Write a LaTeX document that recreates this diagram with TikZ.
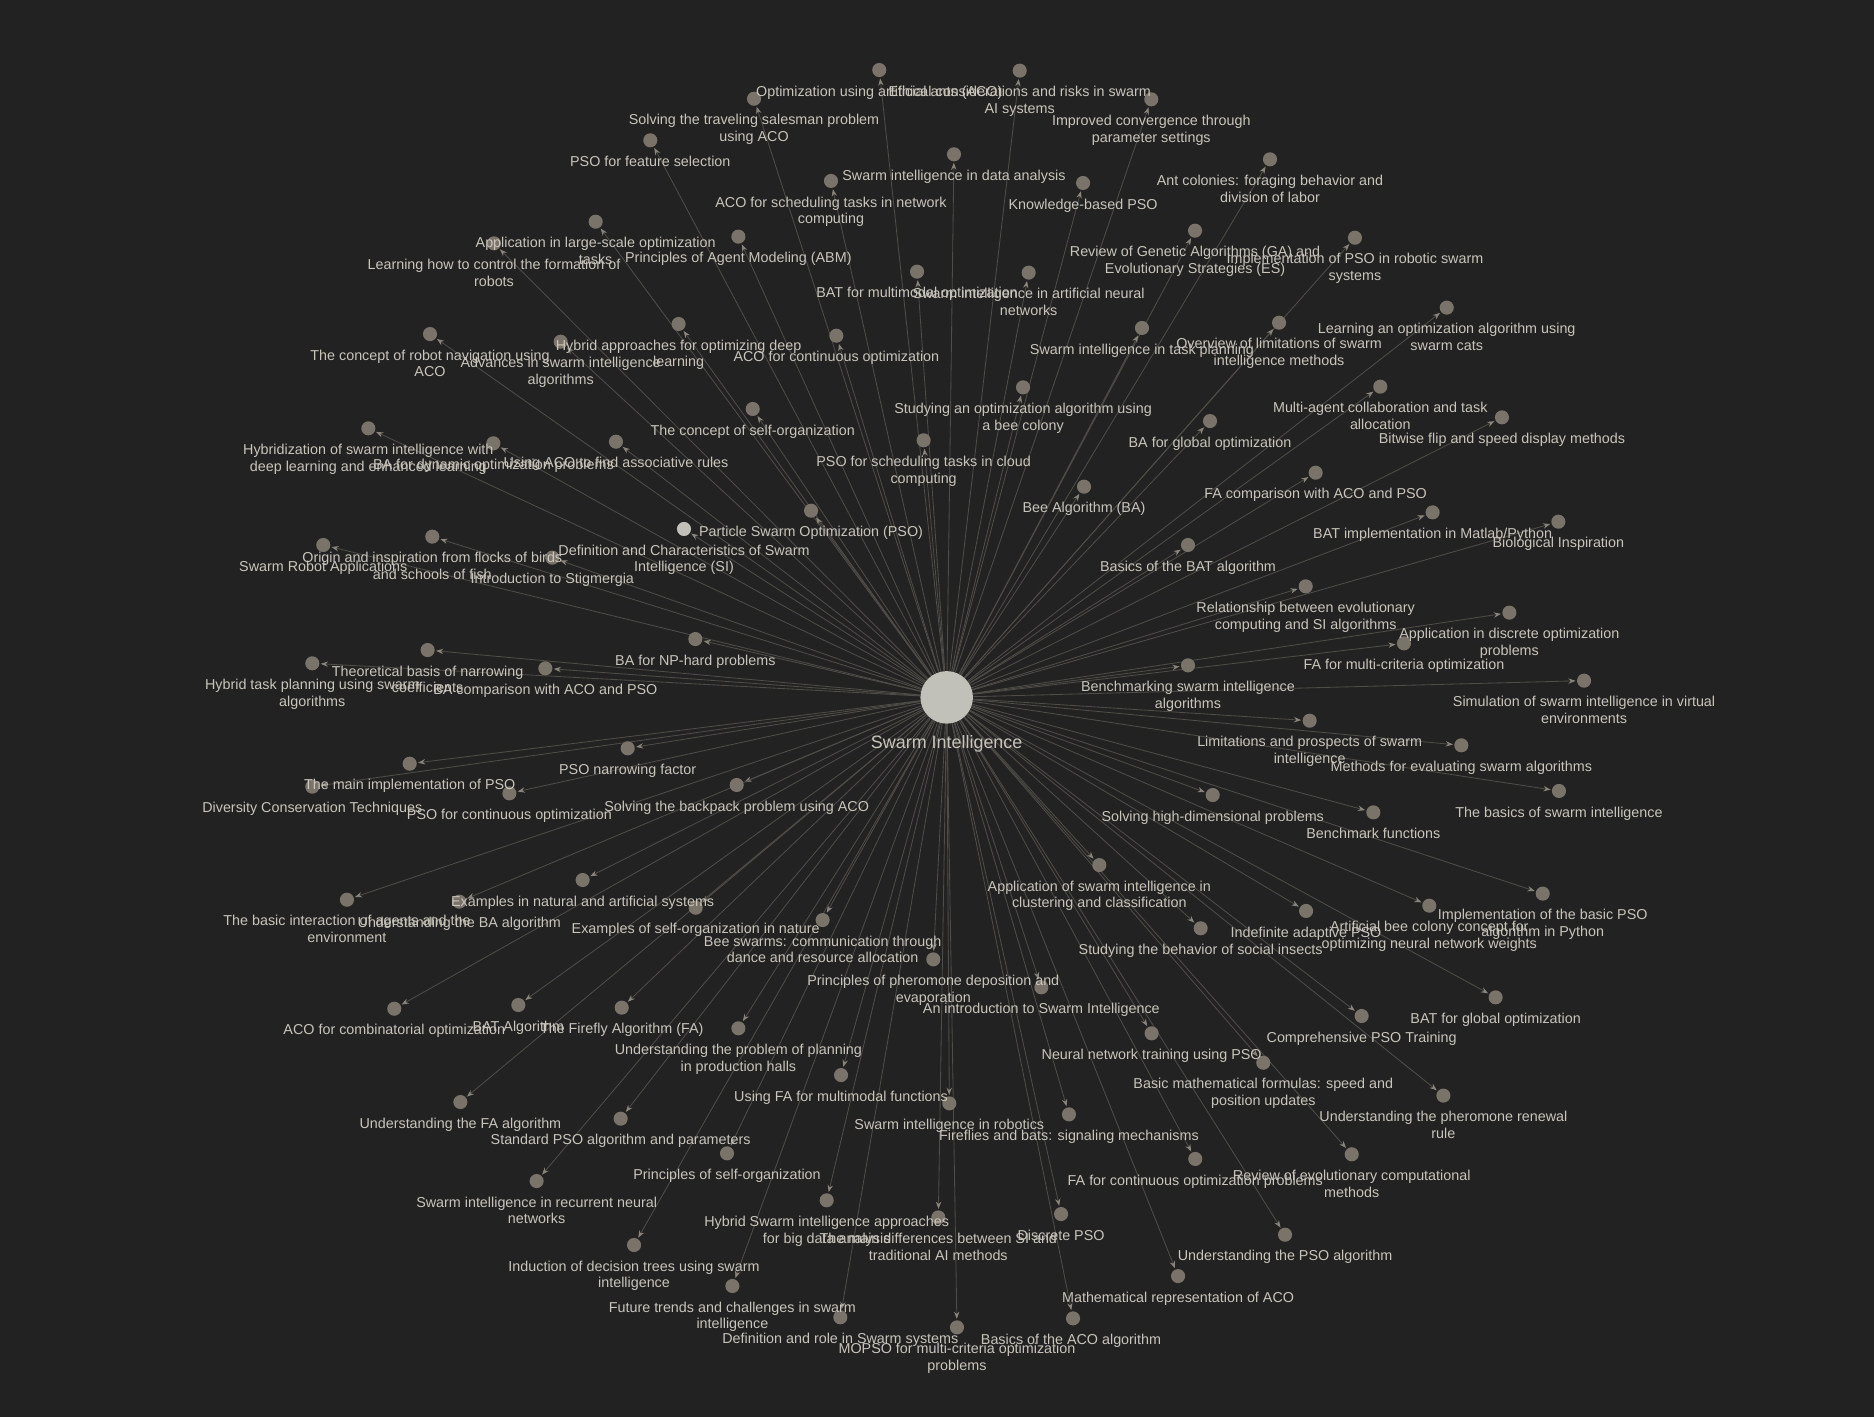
\documentclass[tikz,border=0pt]{standalone}
\usepackage{fontspec}
\setmainfont{Liberation Sans}
\usetikzlibrary{arrows.meta}
\definecolor{bgc}{HTML}{222222}
\definecolor{edgec}{HTML}{4F4D48}
\definecolor{tipc}{HTML}{8A857C}
\definecolor{nodec}{HTML}{7A7369}
\definecolor{txtc}{HTML}{C9C5BB}
\definecolor{hubc}{HTML}{C2C1B9}
\pgfdeclarelayer{bgl}
\pgfdeclarelayer{edges}
\pgfdeclarelayer{labels}
\pgfsetlayers{bgl,edges,main,labels}
\tikzset{
 gn/.style={circle, fill=nodec, inner sep=0pt, minimum size=11.8pt},
 hl/.style={gn, fill=hubc},
 hub/.style={circle, fill=hubc, inner sep=0pt, minimum size=44pt},
 lab/.style={anchor=north, inner sep=0pt, align=center, text=txtc, font=\fontsize{12}{14}\selectfont},
 hublab/.style={anchor=north, inner sep=0pt, text=txtc, font=\fontsize{15}{18}\selectfont},
 link/.style={draw=edgec, line width=0.7pt, -{Stealth[length=6pt,width=4.5pt,inset=2pt,color=tipc]}, shorten >=1pt},
}
\begin{document}
\begin{tikzpicture}[x=1pt,y=-1pt]
\begin{pgfonlayer}{bgl}
\fill[bgc] (0,0) rectangle (1568,1186);
\end{pgfonlayer}
\useasboundingbox (0,0) rectangle (1568,1186);
\node[hub] (c) at (792.1,583.5) {};
\node[hublab] (cl) at (792.1,615) {Swarm Intelligence};
% highlighted node
\node[hl] (n38) at (572.3,442.6) {};
\begin{pgfonlayer}{edges}\draw[link] (c) -- (n38);\end{pgfonlayer}
\begin{pgfonlayer}{labels}\node[lab] (l38) at (572.3,455.6) {Definition and Characteristics of Swarm\\Intelligence (SI)};\end{pgfonlayer}
\foreach \i/\x/\y/\t in {
1/735.7/58.6/{Optimization using artificial ants (ACO)},
2/853.2/59.1/{Ethical considerations and risks in swarm\\AI systems},
3/630.9/82.6/{Solving the traveling salesman problem\\using ACO},
4/963.3/83.1/{Improved convergence through\\parameter settings},
5/544.1/117.4/{PSO for feature selection},
6/798.2/129.1/{Swarm intelligence in data analysis},
7/1062.6/133.3/{Ant colonies: foraging behavior and\\division of labor},
8/695.3/151.4/{ACO for scheduling tasks in network\\computing},
9/906.2/153.1/{Knowledge-based PSO},
10/498.4/185.5/{Application in large-scale optimization\\tasks},
11/617.8/198/{Principles of Agent Modeling (ABM)},
12/413.3/203.6/{Learning how to control the formation of\\robots},
13/999.9/193/{Review of Genetic Algorithms (GA) and\\Evolutionary Strategies (ES)},
14/1133.7/198.9/{Implementation of PSO in robotic swarm\\systems},
15/767.3/227.3/{BAT for multimodal optimization},
16/860.7/228.1/{Swarm intelligence in artificial neural\\networks},
17/1210.5/257.4/{Learning an optimization algorithm using\\swarm cats},
18/567.8/271.1/{Hybrid approaches for optimizing deep\\learning},
19/359.8/279.5/{The concept of robot navigation using\\ACO},
20/469.1/285.9/{Advances in swarm intelligence\\algorithms},
21/699.8/280.9/{ACO for continuous optimization},
22/955.5/274.4/{Swarm intelligence in task planning},
23/1070.2/270/{Overview of limitations of swarm\\intelligence methods},
24/1154.9/323.5/{Multi-agent collaboration and task\\allocation},
25/1256.7/349.2/{Bitwise flip and speed display methods},
26/856/324.1/{Studying an optimization algorithm using\\a bee colony},
27/629.8/342.2/{The concept of self-organization},
28/308.2/358.4/{Hybridization of swarm intelligence with\\deep learning and enhanced learning},
29/412.8/370.9/{BA for dynamic optimization problems},
30/515.4/369.6/{Using ACO to find associative rules},
31/772.8/368.4/{PSO for scheduling tasks in cloud\\computing},
32/1012.4/352.3/{BA for global optimization},
33/1100.8/395.5/{FA comparison with ACO and PSO},
34/907/407.2/{Bee Algorithm (BA)},
35/1198.7/428.7/{BAT implementation in Matlab/Python},
36/1303.9/436.5/{Biological Inspiration},
37/678.6/427.3/{Particle Swarm Optimization (PSO)},
39/270.5/456/{Swarm Robot Applications},
40/361.7/449/{Origin and inspiration from flocks of birds\\and schools of fish},
41/462.1/466.6/{Introduction to Stigmergia},
42/994/456/{Basics of the BAT algorithm},
43/1092.5/490.6/{Relationship between evolutionary\\computing and SI algorithms},
44/1262.9/512.6/{Application in discrete optimization\\problems},
45/1174.7/538.3/{FA for multi-criteria optimization},
46/581.8/534.7/{BA for NP-hard problems},
47/357.8/543.9/{Theoretical basis of narrowing\\coefficients},
48/261.3/555/{Hybrid task planning using swarm\\algorithms},
49/456.3/559.2/{BA comparison with ACO and PSO},
50/994/556.7/{Benchmarking swarm intelligence\\algorithms},
51/1325.4/569.5/{Simulation of swarm intelligence in virtual\\environments},
52/1095.8/603/{Limitations and prospects of swarm\\intelligence},
53/1222.7/623.6/{Methods for evaluating swarm algorithms},
54/525.2/626.1/{PSO narrowing factor},
55/342.8/639/{The main implementation of PSO},
56/261.3/658.2/{Diversity Conservation Techniques},
57/426.2/663.8/{PSO for continuous optimization},
58/616.4/656.8/{Solving the backpack problem using ACO},
59/1014.7/665.2/{Solving high-dimensional problems},
60/1304.4/661.8/{The basics of swarm intelligence},
61/1149.1/679.7/{Benchmark functions},
62/919.8/723.8/{Application of swarm intelligence in\\clustering and classification},
63/1290.8/747.7/{Implementation of the basic PSO\\algorithm in Python},
64/290.3/752.8/{The basic interaction of agents and the\\environment},
65/384.3/754.4/{Understanding the BA algorithm},
66/487.5/736.3/{Examples in natural and artificial systems},
67/582.1/759.5/{Examples of self-organization in nature},
68/688.3/769.8/{Bee swarms: communication through\\dance and resource allocation},
69/1004.6/776.7/{Studying the behavior of social insects},
70/1092.8/762.2/{Indefinite adaptive PSO},
71/1195.9/757.8/{Artificial bee colony concept for\\optimizing neural network weights},
72/780.9/802.7/{Principles of pheromone deposition and\\evaporation},
73/871.3/826.1/{An introduction to Swarm Intelligence},
74/329.9/844/{ACO for combinatorial optimization},
75/433.7/840.9/{BAT Algorithm},
76/520.2/843.1/{The Firefly Algorithm (FA)},
77/617.8/860.4/{Understanding the problem of planning\\in production halls},
78/1251.4/834.5/{BAT for global optimization},
79/1139.3/850.1/{Comprehensive PSO Training},
80/963.6/864.6/{Neural network training using PSO},
81/703.7/899.5/{Using FA for multimodal functions},
82/1057/889.2/{Basic mathematical formulas: speed and\\position updates},
83/1207.7/916.7/{Understanding the pheromone renewal\\rule},
84/385.2/922.1/{Understanding the FA algorithm},
85/794.3/923.2/{Swarm intelligence in robotics},
86/894.4/932.4/{Fireflies and bats: signaling mechanisms},
87/519.3/936/{Standard PSO algorithm and parameters},
88/608.3/965/{Principles of self-organization},
89/1131/965.8/{Review of evolutionary computational\\methods},
90/1000.1/969.7/{FA for continuous optimization problems},
91/449/988.2/{Swarm intelligence in recurrent neural\\networks},
92/691.7/1004.3/{Hybrid Swarm intelligence approaches\\for big data analysis},
93/785.1/1018.6/{The main differences between SI and\\traditional AI methods},
94/887.8/1015.8/{Discrete PSO},
95/1075.2/1033.1/{Understanding the PSO algorithm},
96/530.5/1041.7/{Induction of decision trees using swarm\\intelligence},
97/985.7/1067.7/{Mathematical representation of ACO},
98/612.8/1076/{Future trends and challenges in swarm\\intelligence},
99/703.1/1102.2/{Definition and role in Swarm systems},
100/800.7/1110.6/{MOPSO for multi-criteria optimization\\problems},
101/897.8/1103.1/{Basics of the ACO algorithm}
}{
  \node[gn] (n\i) at (\x,\y) {};
  \begin{pgfonlayer}{edges}\draw[link] (c) -- (n\i);\end{pgfonlayer}
  \begin{pgfonlayer}{labels}\node[lab] (l\i) at (\x,{\y+13}) {\t};\end{pgfonlayer}
}
\end{tikzpicture}
\end{document}
